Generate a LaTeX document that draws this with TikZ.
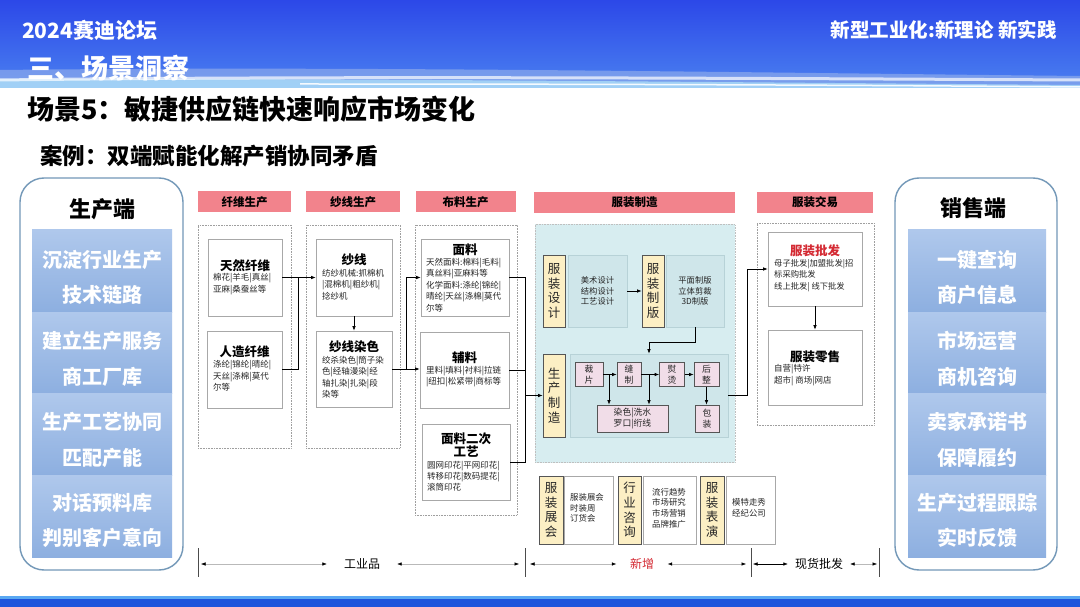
\documentclass[tikz,border=0pt]{standalone}
\usepackage{fontspec}
\setmainfont{Noto Sans CJK SC}
\usetikzlibrary{arrows.meta,calc}
\definecolor{hdrtop}{HTML}{2C48E8}
\definecolor{hdrbot}{HTML}{4A80F0}
\definecolor{barblue}{HTML}{1E55DC}
\definecolor{barlight}{HTML}{5AA8F2}
\definecolor{hdrpink}{HTML}{F2838C}
\definecolor{labyellow}{HTML}{FCEFC4}
\definecolor{labborder}{HTML}{555555}
\definecolor{pinkbox}{HTML}{F1DDE8}
\definecolor{tealbg}{HTML}{D7EDF0}
\definecolor{tealin}{HTML}{CFE6EA}
\definecolor{tealline}{HTML}{B7D2D7}
\definecolor{boxgray}{HTML}{A8A8A8}
\definecolor{panelborder}{HTML}{7398B8}
\definecolor{blktop}{HTML}{AFC8EC}
\definecolor{blkbot}{HTML}{8DAFE0}
\definecolor{redtxt}{HTML}{D42A33}
\tikzset{
  hdr/.style={fill=hdrpink, draw=none, minimum height=21pt, inner sep=0,
    font=\bfseries\fontsize{11.5}{12}\selectfont},
  cont/.style={draw=gray!75, densely dotted, line width=0.6pt, inner sep=0},
  tealc/.style={fill=tealbg, draw=gray!50, densely dotted, line width=0.6pt, inner sep=0},
  ibox/.style={draw=boxgray, fill=white, line width=0.6pt, inner sep=0},
  wbx/.style={draw=boxgray, fill=white, line width=0.6pt, inner sep=0},
  ttl/.style={font=\bfseries\fontsize{12.5}{14}\selectfont, inner sep=0},
  det/.style={font=\fontsize{8.5}{11.5}\selectfont, align=left, inner sep=0, anchor=west, text=black!85},
  detb/.style={font=\fontsize{8.4}{10.6}\selectfont, align=left, inner sep=0, anchor=west, text=black!85},
  vlab/.style={draw=labborder, fill=labyellow, line width=0.7pt, align=center, inner sep=0,
    font=\fontsize{12.5}{14.6}\selectfont, text=black!85},
  pbx/.style={draw=labborder, fill=pinkbox, line width=0.7pt, align=center, inner sep=0,
    font=\fontsize{8.8}{11.3}\selectfont, text=black!85},
  tealbx/.style={draw=tealline, fill=tealin, line width=0.6pt, inner sep=0, align=center,
    font=\fontsize{8.3}{10.5}\selectfont, text=black!85},
  arr/.style={-{Latex[length=4.5pt,width=3.6pt]}, line width=0.7pt, black},
  ln/.style={line width=0.7pt, black},
  panel/.style={draw=panelborder, line width=1.4pt, rounded corners=24pt, fill=white, inner sep=0},
  blk/.style={top color=blktop, bottom color=blkbot, draw=none, inner sep=0},
  blktxt/.style={text=white, align=center, inner sep=0, font=\bfseries\fontsize{20}{35.5}\selectfont},
  ptitle/.style={inner sep=0, font=\bfseries\fontsize{22}{24}\selectfont},
  dimln/.style={draw=gray!55, line width=0.5pt,
    {Latex[length=4.5pt,width=3.5pt,color=black]}-{Latex[length=4.5pt,width=3.5pt,color=black]}},
  dimlab/.style={inner ysep=0, font=\fontsize{12}{13}\selectfont},
  tickln/.style={draw=black!70, line width=0.8pt}
}
\begin{document}
\begin{tikzpicture}[x=1pt,y=-1pt]
\useasboundingbox (0,0) rectangle (1080,607);
\fill[white] (0,0) rectangle (1080,607);
% ---------- header band ----------
\shade[top color=hdrtop, bottom color=hdrbot] (0,0) rectangle (1080,88);
\fill[cyan!50!blue!30!white, opacity=0.45] (0,70) .. controls (350,66) and (700,72) .. (1080,76) -- (1080,88) -- (0,88) -- cycle;
\fill[cyan!30!white, opacity=0.7] (0,79) .. controls (300,78) and (700,82) .. (1080,85) -- (1080,88) -- (0,88) -- cycle;
\draw[white, line width=3pt, opacity=0.7] (0,80) .. controls (300,76) and (700,78) .. (1080,80);
\draw[white, line width=1.5pt, opacity=0.9] (300,84) .. controls (600,84) and (850,85) .. (1080,87);
\node[anchor=west, inner sep=0, text=white, font=\bfseries\fontsize{21}{22}\selectfont] (brand) at (22,30) {2024赛迪论坛};
\node[anchor=west, inner sep=0, text=white, font=\bfseries\fontsize{27}{28}\selectfont] (sect) at (27,68) {三、场景洞察};
\node[anchor=east, inner sep=0, text=white, font=\bfseries\fontsize{19.5}{22}\selectfont] (motto) at (1057,30) {新型工业化:新理论 新实践};
% ---------- bottom bar ----------
\fill[barblue] (0,597) rectangle (1080,607);
\fill[barlight] (0,596) rectangle (1080,598.5);
% ---------- titles ----------
\node[anchor=west, inner sep=0, font=\bfseries\fontsize{27}{28}\selectfont] (title) at (27,109) {场景5：敏捷供应链快速响应市场变化};
\node[anchor=west, inner sep=0, font=\bfseries\fontsize{22.5}{24}\selectfont] (subtitle) at (40,156) {案例：双端赋能化解产销协同矛盾};
% ---------- left panel ----------
\node[panel, minimum width=163pt, minimum height=392pt] (LP) at (101.5,374) {};
\node[ptitle] (LPt) at (102,209) {生产端};
\node[blk, minimum width=140pt, minimum height=82pt] (L1) at (102,271) {};
\node[blk, minimum width=140pt, minimum height=81.5pt] (L2) at (102,352.75) {};
\node[blk, minimum width=140pt, minimum height=81.5pt] (L3) at (102,434.25) {};
\node[blk, minimum width=140pt, minimum height=82pt] (L4) at (102,516) {};
\node[blktxt] (L1t) at (102,277.5) {沉淀行业生产\\技术链路};
\node[blktxt] (L2t) at (102,359) {建立生产服务\\商工厂库};
\node[blktxt] (L3t) at (102,440) {生产工艺协同\\匹配产能};
\node[blktxt] (L4t) at (102,520.5) {对话预料库\\判别客户意向};
% ---------- right panel ----------
\node[panel, minimum width=162pt, minimum height=392pt] (RP) at (976,374) {};
\node[ptitle] (RPt) at (973,208) {销售端};
\node[blk, minimum width=138pt, minimum height=82pt] (R1) at (977,271) {};
\node[blk, minimum width=138pt, minimum height=81.5pt] (R2) at (977,352.75) {};
\node[blk, minimum width=138pt, minimum height=81.5pt] (R3) at (977,434.25) {};
\node[blk, minimum width=138pt, minimum height=82pt] (R4) at (977,516) {};
\node[blktxt] (R1t) at (977,277.5) {一键查询\\商户信息};
\node[blktxt] (R2t) at (977,359) {市场运营\\商机咨询};
\node[blktxt] (R3t) at (977,440) {卖家承诺书\\保障履约};
\node[blktxt] (R4t) at (977,520.5) {生产过程跟踪\\实时反馈};
% ---------- column 1 ----------
\node[hdr, minimum width=93pt] (h1) at (244.5,202) {纤维生产};
\node[cont, minimum width=93pt, minimum height=223pt] (c1) at (244.5,336.5) {};
\node[ibox, minimum width=74pt, minimum height=77pt] (tr) at (245,277.5) {};
\node[ttl] (trt) at (245,266) {天然纤维};
\node[det] (trd) at (213,284) {棉花|羊毛|真丝|\\亚麻|桑蚕丝等};
\node[ibox, minimum width=75pt, minimum height=77pt] (rz) at (244.5,369.5) {};
\node[ttl] (rzt) at (244.5,352) {人造纤维};
\node[det] (rzd) at (213,376) {涤纶|锦纶|晴纶|\\天丝|涤棉|莫代\\尔等};
% ---------- column 2 ----------
\node[hdr, minimum width=94pt] (h2) at (353,202) {纱线生产};
\node[cont, minimum width=94pt, minimum height=223pt] (c2) at (353,336.5) {};
\node[ibox, minimum width=76pt, minimum height=77pt] (sx) at (354,277.5) {};
\node[ttl] (sxt) at (354,260) {纱线};
\node[det] (sxd) at (322,284.5) {纺纱机械:抓棉机\\|混棉机|粗纱机|\\捻纱机};
\node[ibox, minimum width=76pt, minimum height=76pt] (sr) at (354,369) {};
\node[ttl] (srt) at (354,347) {纱线染色};
\node[det] (srd) at (322,377) {绞杀染色|筒子染\\色|经轴漫染|经\\轴扎染|扎染|段\\染等};
% ---------- column 3 ----------
\node[hdr, minimum width=100pt] (h3) at (465.5,202) {布料生产};
\node[cont, minimum width=102pt, minimum height=290pt] (c3) at (466,370) {};
\node[ibox, minimum width=88pt, minimum height=77pt] (ml) at (465,277.5) {};
\node[ttl] (mlt) at (465,250) {面料};
\node[det] (mld) at (426,285) {天然面料:棉料|毛料|\\真丝料|亚麻料等\\化学面料:涤纶|锦纶|\\晴纶|天丝|涤棉|莫代\\尔等};
\node[ibox, minimum width=89pt, minimum height=76pt] (fl) at (464.5,370) {};
\node[ttl] (flt) at (464.5,358) {辅料};
\node[det] (fld) at (426,376.5) {里料|填料|衬料|拉链\\|纽扣|松紧带|商标等};
\node[ibox, minimum width=88pt, minimum height=76pt] (ec) at (466,462) {};
\node[ttl, align=center, font=\bfseries\fontsize{12.5}{13}\selectfont] (ect) at (466,445.5) {面料二次\\工艺};
\node[det, font=\fontsize{8.5}{11}\selectfont] (ecd) at (427,476) {圆网印花|平网印花|\\转移印花|数码提花|\\滚筒印花};
% ---------- column 4 ----------
\node[hdr, minimum width=201pt] (h4) at (634.5,202.5) {服装制造};
\node[tealc, minimum width=200pt, minimum height=238pt] (c4) at (635,343.5) {};
\node[vlab, minimum width=22pt, minimum height=72pt] (fd) at (554,291) {服\\装\\设\\计};
\node[tealbx, minimum width=59pt, minimum height=72pt] (fdd) at (597.5,291) {美术设计\\结构设计\\工艺设计};
\node[vlab, minimum width=22pt, minimum height=72pt] (fb) at (653,291) {服\\装\\制\\版};
\node[tealbx, minimum width=58pt, minimum height=72pt] (fbd) at (695,291) {平面制版\\立体剪裁\\3D制版};
\node[vlab, minimum width=22pt, minimum height=83pt] (sc) at (554,395.5) {生\\产\\制\\造};
\node[tealbx, minimum width=158pt, minimum height=83pt] (pbox) at (649,395.5) {};
\node[pbx, minimum width=28pt, minimum height=24pt] (cp) at (589,374.5) {裁\\片};
\node[pbx, minimum width=24pt, minimum height=24pt] (fz) at (629,374.5) {缝\\制};
\node[pbx, minimum width=25pt, minimum height=24pt] (yt) at (672,374.5) {熨\\烫};
\node[pbx, minimum width=25pt, minimum height=24pt] (hz) at (706.5,374.5) {后\\整};
\node[pbx, minimum width=71pt, minimum height=27pt] (ry) at (632.5,418.5) {染色|洗水\\罗口|绗线};
\node[pbx, minimum width=24pt, minimum height=27pt] (bz) at (707,418.5) {包\\装};
% ---------- column 5 ----------
\node[hdr, minimum width=116pt] (h5) at (815,202.5) {服装交易};
\node[cont, minimum width=117pt, minimum height=202pt] (c5) at (815.5,324) {};
\node[ibox, minimum width=94pt, minimum height=74pt] (pf) at (815,269) {};
\node[ttl, text=redtxt] (pft) at (815,251) {服装批发};
\node[det, font=\fontsize{8.3}{11.5}\selectfont] (pfd) at (774,275.5) {母子批发|加盟批发|招\\标采购批发\\线上批发| 线下批发};
\node[ibox, minimum width=94pt, minimum height=75pt] (pl) at (815,367.5) {};
\node[ttl] (plt) at (815,357) {服装零售};
\node[det] (pld) at (774,375) {自营|特许\\超市| 商场|网店};
% ---------- bottom row ----------
\node[vlab, minimum width=24pt, minimum height=68pt] (zh) at (551,510) {服\\装\\展\\会};
\node[wbx, minimum width=49pt, minimum height=68pt] (zhd) at (588.5,510) {};
\node[detb] (zht) at (570,508) {服装展会\\时装周\\订货会};
\node[vlab, minimum width=23pt, minimum height=68pt] (hy) at (629.5,510) {行\\业\\咨\\询};
\node[wbx, minimum width=53pt, minimum height=68pt] (hyd) at (669.5,510) {};
\node[detb] (hyt) at (652,508) {流行趋势\\市场研究\\市场营销\\品牌推广};
\node[vlab, minimum width=24pt, minimum height=68pt] (by) at (712,510) {服\\装\\表\\演};
\node[wbx, minimum width=49pt, minimum height=68pt] (byd) at (750.5,510) {};
\node[detb] (byt) at (732,508) {模特走秀\\经纪公司};
% ---------- connectors ----------
\coordinate (j1) at (298,277.5);
\draw[arr] (tr.east) -- (sx.west);
\draw[ln] (rz.east) -| (j1);
\draw[arr] (sx.south) -- (sr.north);
\coordinate (j2) at (406,369);
\draw[arr] (sr.east) -- (sr.east -| fl.west);
\draw[arr] (j2) |- (ml.west);
\coordinate (j3t) at (525,277.5);
\coordinate (j3b) at (525,462);
\draw[ln] (ml.east) -- (j3t) -- (j3b) -- (ec.east);
\draw[ln] (fl.east) -- (fl.east -| j3t);
\draw[arr] (j3t |- sc.west) -- (sc.west);
\draw[arr] (fdd.east) -- (fb.west);
\draw[arr] (fbd.south) -- ++(0,15) -| (pbox.north);
\draw[arr] (cp.east) -- (fz.west);
\draw[arr] (fz.east) -- (yt.west);
\draw[arr] (yt.east) -- (hz.west);
\draw[arr] (hz.south) -- (hz.south |- bz.north);
\coordinate (b1) at (609,374.5);
\coordinate (b2) at (649,374.5);
\draw[arr] (b1) -- (b1 |- ry.north);
\draw[arr] (b2) -- (b2 |- ry.north);
\coordinate (j4) at (747,395.5);
\draw[ln] (pbox.east) -- (j4);
\draw[arr] (j4) |- (pf.west);
\draw[arr] (pf.south) -- (pl.north);
% ---------- dimension row ----------
\coordinate (t1) at (198,564);
\coordinate (t2) at (525,564);
\coordinate (t3) at (751,564);
\coordinate (t4) at (879,564);
\foreach \t in {t1,t2,t3,t4} \draw[tickln] ($(\t)+(0,-16)$) -- ($(\t)+(0,13)$);
\node[dimlab, inner xsep=17pt] (gy) at (362,564) {工业品};
\draw[dimln, shorten <=3pt] (t1) -- (gy.west);
\draw[dimln, shorten >=6pt] (gy.east) -- (t2);
\node[dimlab, inner xsep=13.5pt, text=redtxt] (xz) at (642,564) {新增};
\draw[dimln, shorten <=5pt] (t2) -- (xz.west);
\draw[dimln, shorten >=5pt] (xz.east) -- (t3);
\node[dimlab, inner xsep=7pt] (xh) at (819,564) {现货批发};
\draw[dimln, draw=black, shorten <=2pt] (t3) -- (xh.west);
\draw[dimln, shorten >=2pt] (xh.east) -- (t4);
\end{tikzpicture}
\end{document}
